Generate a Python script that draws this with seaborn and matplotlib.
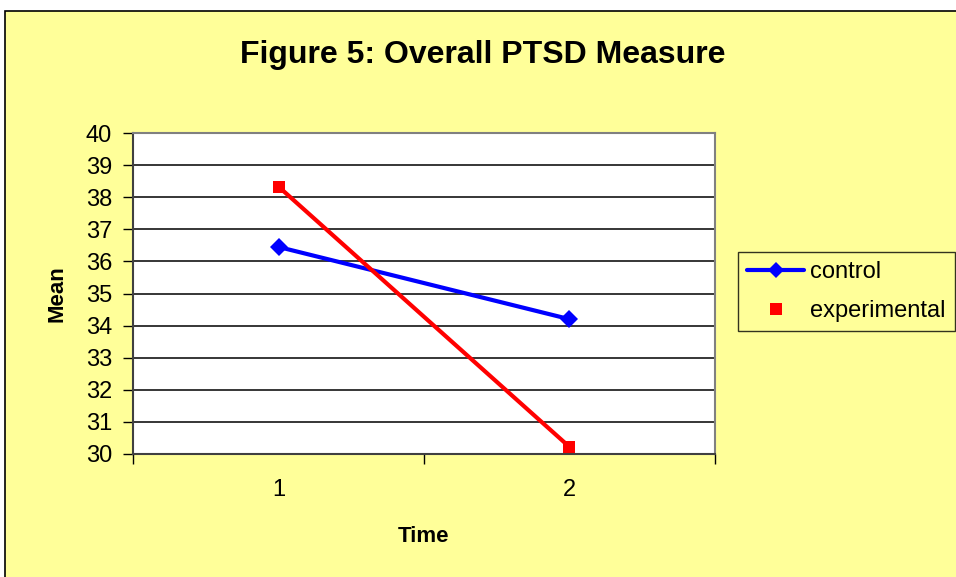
import matplotlib
matplotlib.use("Agg")
import matplotlib.pyplot as plt
from matplotlib.patches import Rectangle
from matplotlib.lines import Line2D
import seaborn as sns
import pandas as pd

time_points = [1, 2]
control = [36.45, 34.2]
experimental = [38.33, 30.22]
series_names = ["control", "experimental"]
y_ticks = list(range(30, 41))

df = pd.DataFrame({
    "Time": time_points * 2,
    "Mean": control + experimental,
    "group": [series_names[0]] * 2 + [series_names[1]] * 2,
})

sns.set_theme(style="white")
plt.rcParams["font.family"] = ["Liberation Sans", "DejaVu Sans"]
plt.rcParams["text.color"] = "black"
plt.rcParams["axes.labelcolor"] = "black"
plt.rcParams["xtick.color"] = "black"
plt.rcParams["ytick.color"] = "black"

W, H = 956, 577
fig = plt.figure(figsize=(W / 100, H / 100), dpi=100)
fig.patch.set_facecolor("white")
YEL = "#FFFF99"
bg = Rectangle((5 / W, -0.2), 1.2, 1.2 - 11 / H, transform=fig.transFigure,
               facecolor=YEL, edgecolor="black", linewidth=1.2, zorder=-10)
fig.patches.append(bg)

ax = fig.add_axes([133 / W, 1 - 454 / H, (715 - 133) / W, (454 - 133) / H])
ax.set_facecolor("white")

palette = {"control": "#0000FF", "experimental": "#FF0000"}
sns.lineplot(data=df, x="Time", y="Mean", hue="group", style="group",
             palette=palette, markers={"control": "D", "experimental": "s"},
             dashes=False, linewidth=3, markersize=9, markeredgewidth=0,
             legend=False, ax=ax)

ax.set_ylim(30, 40)
ax.set_xlim(0.5, 2.5)
ax.set_yticks(y_ticks)
ax.yaxis.grid(True, color="black", linewidth=1.1)
ax.set_axisbelow(True)
ax.tick_params(axis="y", labelsize=17, length=7, width=1, color="black",
               direction="out", left=True, pad=8)
ax.set_xticks([0.5, 1.5, 2.5])
ax.set_xticklabels([])
ax.set_xticks(time_points, minor=True)
ax.set_xticklabels([str(t) for t in time_points], minor=True)
ax.tick_params(axis="x", which="major", length=7, width=1, color="black",
               direction="out", bottom=True)
ax.tick_params(axis="x", which="minor", length=0, labelsize=17, pad=18)
for s in ["top", "right"]:
    ax.spines[s].set_color("#808080")
    ax.spines[s].set_linewidth(1.5)
ax.spines["left"].set_color("#404040")
ax.spines["left"].set_linewidth(1.5)
ax.spines["bottom"].set_color("#404040")
ax.spines["bottom"].set_linewidth(1.5)

ax.set_xlabel("Time", fontsize=16, fontweight="bold", va="center")
ax.xaxis.set_label_coords(0.5, -(537 - 454) / 321)
ax.set_ylabel("Mean", fontsize=16, fontweight="bold", va="center")
ax.yaxis.set_label_coords(-(133 - 57) / 582, 0.5)

fig.text(483 / W, 1 - 55 / H, "Figure 5: Overall PTSD Measure",
         fontsize=23, fontweight="bold", ha="center", va="center")

handles = [
    Line2D([0], [0], color="#0000FF", linewidth=3, marker="D", markersize=8,
           markeredgewidth=0),
    Line2D([0], [0], color="none", marker="s", markersize=8,
           markerfacecolor="#FF0000", markeredgewidth=0),
]
leg = fig.legend(handles, series_names, loc="upper left",
                 bbox_to_anchor=(738 / W, 1 - 252 / H), fontsize=17,
                 frameon=True, fancybox=False, handlelength=2.4,
                 borderpad=0.4, labelspacing=0.7, handletextpad=0.25,
                 borderaxespad=0)
leg.get_frame().set_facecolor(YEL)
leg.get_frame().set_edgecolor("black")
leg.get_frame().set_linewidth(1)

fig.savefig("out.png", dpi=100, facecolor=fig.get_facecolor())
